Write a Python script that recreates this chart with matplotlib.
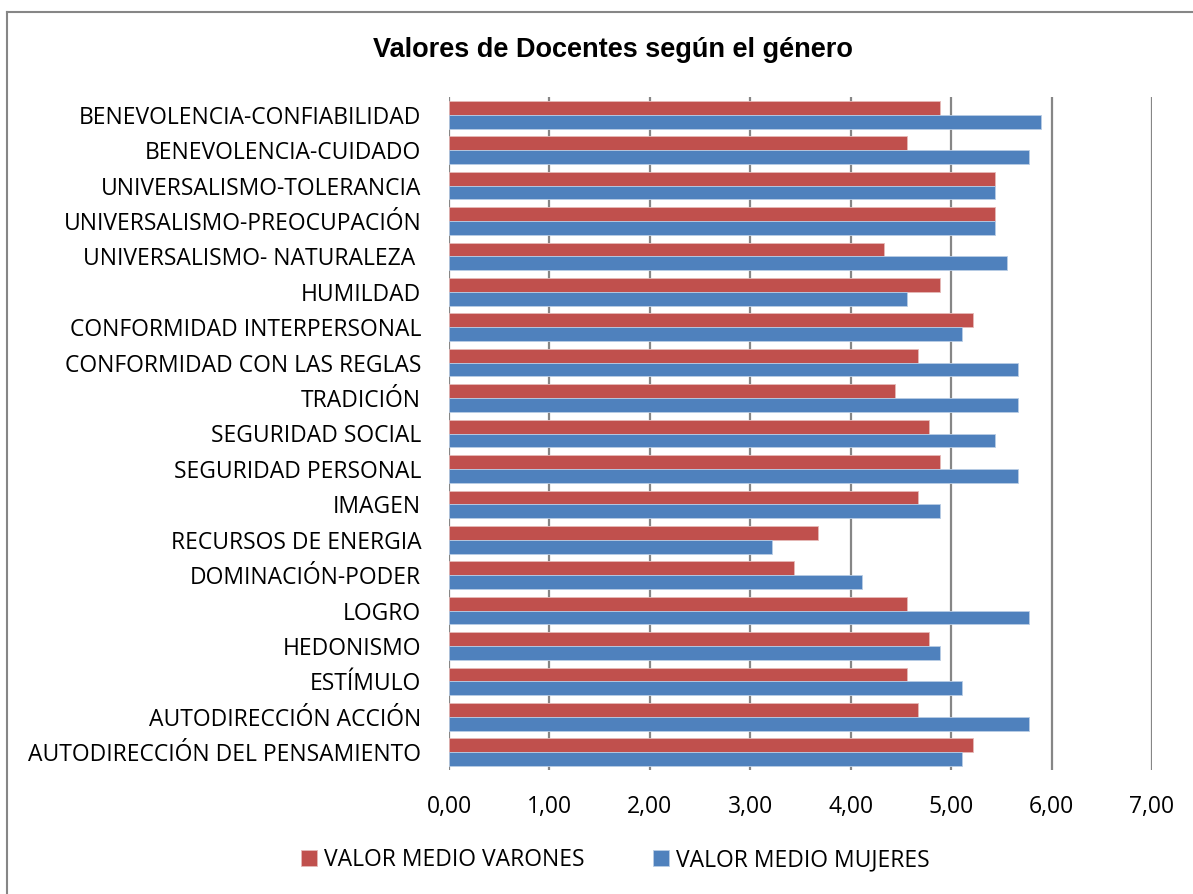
import matplotlib.pyplot as plt
from matplotlib.lines import Line2D
import numpy as np

categorias = [
    'BENEVOLENCIA-CONFIABILIDAD',
    'BENEVOLENCIA-CUIDADO',
    'UNIVERSALISMO-TOLERANCIA',
    'UNIVERSALISMO-PREOCUPACIÓN',
    'UNIVERSALISMO- NATURALEZA ',
    'HUMILDAD',
    'CONFORMIDAD INTERPERSONAL',
    'CONFORMIDAD CON LAS REGLAS',
    'TRADICIÓN',
    'SEGURIDAD SOCIAL',
    'SEGURIDAD PERSONAL',
    'IMAGEN',
    'RECURSOS DE ENERGIA',
    'DOMINACIÓN-PODER',
    'LOGRO',
    'HEDONISMO',
    'ESTÍMULO',
    'AUTODIRECCIÓN ACCIÓN',
    'AUTODIRECCIÓN DEL PENSAMIENTO',
]
varones = [4.89, 4.56, 5.44, 5.44, 4.33, 4.89, 5.22, 4.67, 4.44, 4.78,
           4.89, 4.67, 3.67, 3.44, 4.56, 4.78, 4.56, 4.67, 5.22]
mujeres = [5.89, 5.78, 5.44, 5.44, 5.56, 4.56, 5.11, 5.67, 5.67, 5.44,
           5.67, 4.89, 3.22, 4.11, 5.78, 4.89, 5.11, 5.78, 5.11]
ticks_x = [0, 1, 2, 3, 4, 5, 6, 7]

plt.rcParams['font.family'] = ['Open Sans', 'DejaVu Sans']

fig = plt.figure(figsize=(11.93, 8.94), dpi=100)
ax = fig.add_axes([449/1193, 1 - 770/894, (1152-449)/1193, (770-97)/894])

y = np.arange(len(categorias))
h = 0.39
ax.barh(y - h/2, varones, height=h, color='#C0504D', edgecolor='#E6B9B8',
        linewidth=0.6, label='VALOR MEDIO VARONES', zorder=3)
ax.barh(y + h/2, mujeres, height=h, color='#4F81BD', edgecolor='#B9CDE5',
        linewidth=0.6, label='VALOR MEDIO MUJERES', zorder=3)

ax.set_ylim(len(categorias) - 0.5, -0.5)
ax.set_xlim(0, 7)
ax.set_yticks(y)
ax.set_yticklabels(categorias, fontsize=16.5)
ax.set_xticks(ticks_x)
ax.set_xticklabels([('%.2f' % t).replace('.', ',') for t in ticks_x], fontsize=16.5)
for t in ticks_x:
    ax.axvline(t, color='#868686', linewidth=1.6, zorder=1)
for s in ax.spines.values():
    s.set_visible(False)
ax.tick_params(axis='both', length=0)
ax.tick_params(axis='x', pad=18)
ax.tick_params(axis='y', pad=20)

fig.suptitle('Valores de Docentes según el género', x=613/1193, y=1 - 50/894,
             fontsize=19.5, fontweight='bold', family='Liberation Sans', va='center')

fig.legend(loc='center', bbox_to_anchor=(615/1193, 1 - 860/894), ncol=2,
           frameon=False, fontsize=16.5, handlelength=0.7, handleheight=0.7,
           columnspacing=3.0, handletextpad=0.3)

# marco del gráfico (solo se ven los bordes izquierdo y superior)
fig.add_artist(Line2D([7/1193, 7/1193], [0, 1 - 12/894], transform=fig.transFigure,
                      color='#868686', linewidth=1.5))
fig.add_artist(Line2D([7/1193, 1], [1 - 12/894, 1 - 12/894], transform=fig.transFigure,
                      color='#868686', linewidth=1.5))

plt.savefig('out.png', dpi=100)
